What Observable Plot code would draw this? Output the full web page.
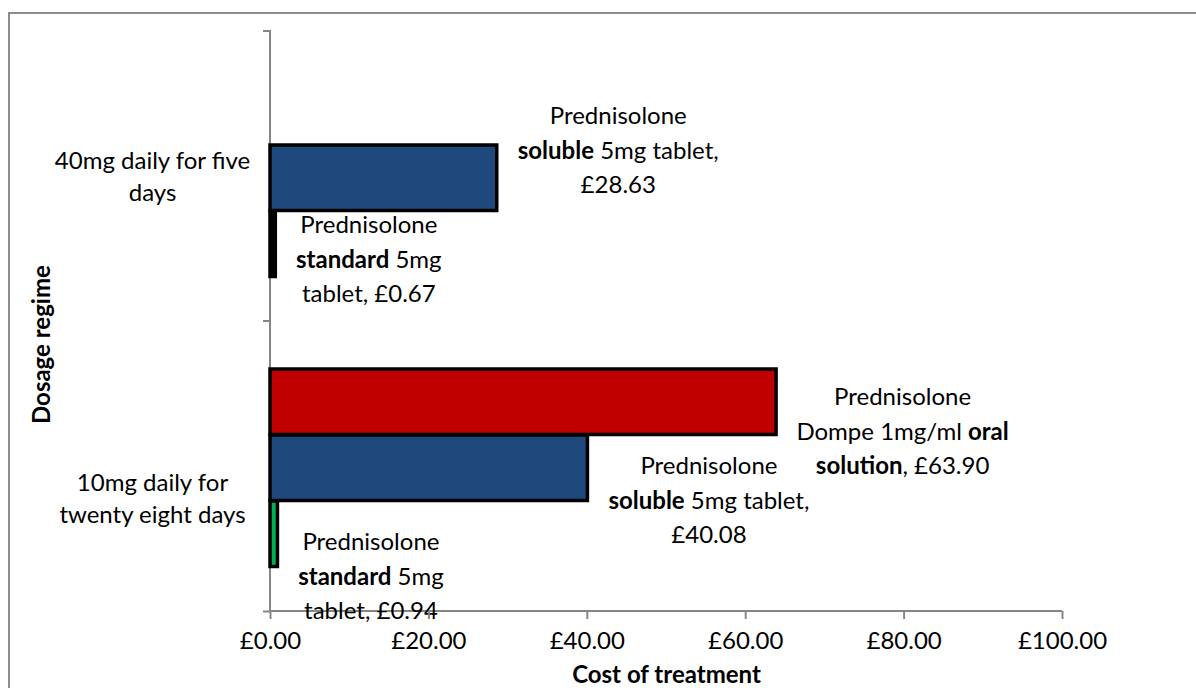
<!DOCTYPE html>
<html><head><meta charset="utf-8">
<script src="https://cdn.jsdelivr.net/npm/d3@7"></script>
<script src="https://cdn.jsdelivr.net/npm/@observablehq/plot@0.6"></script>
<style>
html,body{margin:0;padding:0;background:#fff;overflow:hidden}
#wrap{position:relative;width:1196px;height:688px}
#border{position:absolute;left:8px;top:12px;width:1200px;height:700px;border:2px solid #8c8c8c;box-sizing:border-box;pointer-events:none}
</style></head><body><div id="wrap"><div id="border"></div></div>
<script>
// ---- data ----
const categories = ["40mg daily for five days", "10mg daily for twenty eight days"];
const categoryLabels = ["40mg daily for five\ndays", "10mg daily for\ntwenty eight days"];
const seriesNames = ["Prednisolone Dompe 1mg/ml oral solution", "Prednisolone soluble 5mg tablet", "Prednisolone standard 5mg tablet"];
const oralSolution = [null, 63.90];
const solubleTablet = [28.63, 40.08];
const standardTablet = [0.67, 0.94];
const xTicks = [0, 20, 40, 60, 80, 100];
const xTitle = "Cost of treatment";
const yTitle = "Dosage regime";

// ---- styling / layout ----
const seriesValues = [oralSolution, solubleTablet, standardTablet];
// fill per [series][category]
const barFill = [["#C00000", "#C00000"], ["#1F497D", "#1F497D"], ["#000000", "#00B050"]];
const labelTemplates = [
  v => `Prednisolone\nDompe 1mg/ml **oral**\n**solution**, £${v.toFixed(2)}`,
  v => `Prednisolone\n**soluble** 5mg tablet,\n£${v.toFixed(2)}`,
  v => `Prednisolone\n**standard** 5mg\ntablet, £${v.toFixed(2)}`
];
// label nudges in px [series][category]
const labelNudge = [
  [null, [126, -38]],
  [[121, -29], [121, 31]],
  [[93, 80], [93, 107]]
];
const catLabelDy = [-2, 30];
const slotTop = 48, slotH = 66;
const FONT = "Lato, 'Open Sans', sans-serif";
const FS = 24;

const rows = [];
seriesNames.forEach((s, si) => categories.forEach((c, ci) => {
  const v = seriesValues[si][ci];
  if (v != null) rows.push({series: s, si, category: c, ci, value: v, label: labelTemplates[si](v)});
}));

function axisLines(index, scales, values, dimensions) {
  const {height, marginTop, marginBottom} = dimensions;
  const x0 = scales.x(0), x1 = scales.x(100);
  const yT = marginTop, yB = height - marginBottom;
  const g = d3.create("svg:g").attr("stroke", "#868686").attr("stroke-width", 2).attr("fill", "none");
  g.append("line").attr("x1", x0).attr("x2", x0).attr("y1", yT).attr("y2", yB);
  g.append("line").attr("x1", x0).attr("x2", x1).attr("y1", yB).attr("y2", yB);
  const bw = (yB - yT) / categories.length;
  const bounds = categories.map(c => scales.y(c)).concat([scales.y(categories[categories.length - 1]) + bw]);
  bounds.forEach(y => g.append("line").attr("x1", x0 - 7).attr("x2", x0).attr("y1", y).attr("y2", y));
  return g.node();
}

const H = 688, mT = 30, mB = 77;
const band = (H - mT - mB) / categories.length;

const marks = [axisLines];
seriesNames.forEach((s, si) => {
  marks.push(Plot.barX(rows.filter(r => r.si === si), {
    x: "value", y: "category", fill: d => barFill[d.si][d.ci], stroke: "black", strokeWidth: 3.5,
    insetTop: slotTop + slotH * si, insetBottom: band - (slotTop + slotH * (si + 1))
  }));
});
rows.forEach(r => {
  const [dx, dy] = labelNudge[r.si][r.ci];
  marks.push(Plot.text([r], {x: "value", y: "category", text: "label", dx, dy,
    textAnchor: "middle", lineAnchor: "middle", lineHeight: 1.45, fontSize: FS, fill: "black"}));
});
categories.forEach((c, ci) => {
  marks.push(Plot.text([c], {y: d => d, text: () => categoryLabels[ci], frameAnchor: "left", dx: -118, dy: catLabelDy[ci],
    textAnchor: "middle", lineAnchor: "middle", lineHeight: 1.35, fontSize: FS, fill: "black"}));
});
marks.push(Plot.axisX(xTicks, {tickFormat: d => "£" + d.toFixed(2), tickSize: 8, tickPadding: 12,
  stroke: "#868686", strokeWidth: 2, fill: "black", fontSize: FS, label: null}));
marks.push(Plot.text([xTitle], {frameAnchor: "bottom", dy: 64, fontWeight: "bold", fontSize: FS, fill: "black", lineAnchor: "middle"}));
marks.push(Plot.text([yTitle], {frameAnchor: "left", dx: -228, dy: 103, rotate: -90, fontWeight: "bold", fontSize: FS, fill: "black", lineAnchor: "middle"}));

const chart = Plot.plot({
  width: 1196, height: H,
  marginLeft: 270, marginRight: 134, marginTop: mT, marginBottom: mB,
  style: {fontFamily: FONT, fontSize: FS + "px", background: "transparent", color: "black"},
  x: {domain: [0, 100], axis: null},
  y: {type: "band", domain: categories, padding: 0, axis: null},
  marks
});

// rich text: **bold**
chart.querySelectorAll("text, tspan").forEach(el => {
  if (el.children.length) return;
  const t = el.textContent;
  if (!t.includes("**")) return;
  el.textContent = "";
  t.split("**").forEach((part, i) => {
    if (!part) return;
    const ts = document.createElementNS("http://www.w3.org/2000/svg", "tspan");
    if (i % 2 === 1) ts.setAttribute("font-weight", "bold");
    ts.textContent = part;
    el.appendChild(ts);
  });
});
document.getElementById("wrap").prepend(chart);
</script></body></html>
